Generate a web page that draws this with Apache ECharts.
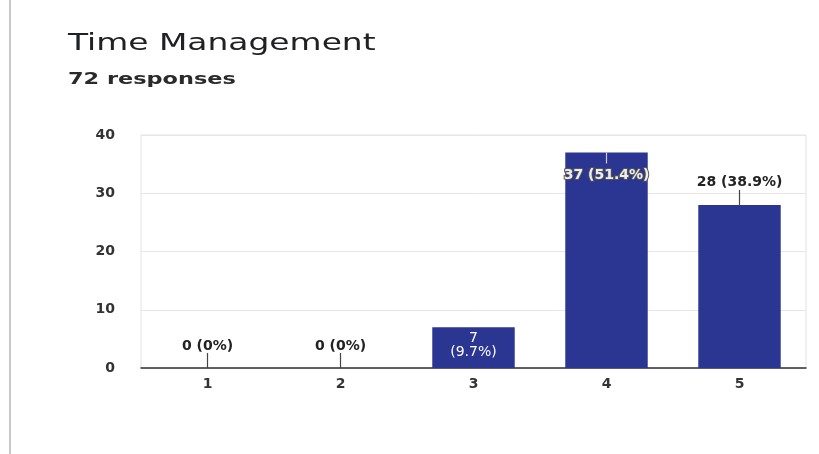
<!DOCTYPE html>
<html><head><meta charset="utf-8">
<script src="https://cdn.jsdelivr.net/npm/echarts@6/dist/echarts.min.js"></script>
<style>html,body{margin:0;padding:0;background:#fff}#c{width:819px;height:454px}</style>
</head><body><div id="c"></div>
<script>
const categories = ['1','2','3','4','5'];
const counts = [0,0,7,37,28];
const percents = ['0%','0%','9.7%','51.4%','38.9%'];
const yTicks = [0,10,20,30,40];
const titleText = 'Time Management';
const subtitleText = '72 responses';

const BAR = '#2b3592';
const FONT = 'DejaVu Sans, Verdana, sans-serif';

const barData = counts.map((v,i)=>{
  const d = {value:v};
  if (i===2) {
    d.label = {show:true, position:'insideTop', distance:4, color:'#fff',
      formatter: v+'\n('+percents[i]+')', lineHeight:14, fontSize:14, fontWeight:'normal'};
  } else if (i===3) {
    d.label = {show:true, position:'insideTop', distance:16, color:'#eee',
      textBorderColor:'#555', textBorderWidth:2,
      formatter: v+' ('+percents[i]+')', fontSize:14};
  } else {
    d.label = {show:true, position:'top', distance:i===4?16:15, color:'#222',
      formatter: v+' ('+percents[i]+')', fontSize:14};
  }
  return d;
});

const chart = echarts.init(document.getElementById('c'));
chart.setOption({
  animation:false,
  textStyle:{fontFamily:FONT},
  graphic:[
    {type:'line', shape:{x1:10,y1:0,x2:10,y2:454}, style:{stroke:'#c8c8c8',lineWidth:2}},
    {type:'text', x:68, y:33, scaleX:1.43, style:{text:titleText, fontSize:23, fill:'#202124', fontFamily:FONT}},
    {type:'text', x:68, y:72, scaleX:1.4, style:{text:subtitleText, fontSize:16, fontWeight:'bold', fill:'#2a2a2a', fontFamily:FONT}}
  ],
  grid:{left:141, right:13, top:135, bottom:86, show:true, borderColor:'#e3e3e3', borderWidth:1},
  xAxis:{type:'category', data:categories,
    axisLine:{lineStyle:{color:'#333', width:1.5}}, axisTick:{show:false},
    axisLabel:{color:'#333', fontSize:14, fontWeight:'bold', margin:9}},
  yAxis:{type:'value', min:yTicks[0], max:yTicks[yTicks.length-1], interval:10,
    axisLine:{show:false}, axisTick:{show:false},
    axisLabel:{color:'#333', fontSize:14, fontWeight:'bold', margin:26},
    splitLine:{lineStyle:{color:'#e6e6e6'}}},
  series:[
    {type:'bar', data:barData, barWidth:'62%', itemStyle:{color:BAR},
      label:{fontWeight:'bold', fontFamily:FONT}},
    {type:'custom', data:counts.map((v,i)=>[i,v]), z:5, silent:true,
      renderItem:function(params, api){
        const i = api.value(0), v = api.value(1);
        if (i===2) return null;
        const p = api.coord([i, v]);
        let len = -15;
        if (i===3) len = 11;
        return {type:'line', shape:{x1:p[0], y1:p[1], x2:p[0], y2:p[1]+len},
          style:{stroke: i===3 ? '#ccc' : '#444', lineWidth:1.2}};
      }}
  ]
});
</script></body></html>
